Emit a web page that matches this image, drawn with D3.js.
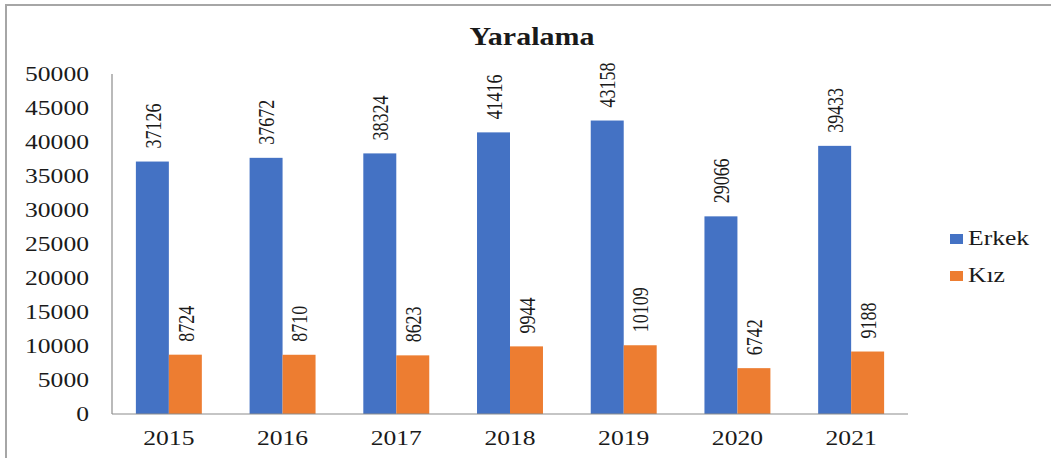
<!DOCTYPE html>
<html>
<head>
<meta charset="utf-8">
<script src="https://cdn.jsdelivr.net/npm/d3@7"></script>
<style>
  html, body { margin: 0; padding: 0; background: #fff; }
  svg { display: block; }
  text { font-family: "Liberation Serif", "Times New Roman", serif; fill: #1a1a1a; }
</style>
</head>
<body>
<svg id="chart" width="1051" height="458"></svg>
<script>
// chart data
const years = ['2015', '2016', '2017', '2018', '2019', '2020', '2021'];
const seriesNames = ['Erkek', 'Kız'];
const erkek = [37126, 37672, 38324, 41416, 43158, 29066, 39433];
const kiz = [8724, 8710, 8623, 9944, 10109, 6742, 9188];
const yTicks = [0, 5000, 10000, 15000, 20000, 25000, 30000, 35000, 40000, 45000, 50000];
const colors = ['#4472C4', '#ED7D31'];

const W = 1051, H = 458;
const plot = {left: 112, right: 908, top: 74, bottom: 414};
// the source picture is stretched sideways, so text gets a horizontal stretch too
const STRETCH = 1.28;

const svg = d3.select('#chart');

// frame (only top and left edges show)
svg.append('path')
  .attr('d', `M6,${H} L6,5 L${W},5`)
  .attr('fill', 'none')
  .attr('stroke', '#a6a6a6')
  .attr('stroke-width', 2);

const x = d3.scaleBand()
  .domain(years)
  .range([plot.left, plot.right])
  .paddingInner(0.42)
  .paddingOuter(0.21);

const xInner = d3.scaleBand()
  .domain(seriesNames)
  .range([0, x.bandwidth()]);

const y = d3.scaleLinear()
  .domain([0, 50000])
  .range([plot.bottom, plot.top]);

const rows = years.map((yr, i) => ({year: yr, values: [erkek[i], kiz[i]]}));

// bars
const groups = svg.append('g').selectAll('g')
  .data(rows)
  .join('g')
  .attr('transform', d => `translate(${x(d.year)},0)`);

groups.selectAll('rect')
  .data(d => d.values.map((v, k) => ({name: seriesNames[k], value: v, k})))
  .join('rect')
  .attr('x', d => xInner(d.name))
  .attr('y', d => y(d.value))
  .attr('width', xInner.bandwidth())
  .attr('height', d => y(0) - y(d.value))
  .attr('fill', d => colors[d.k]);

// value labels, rotated
groups.selectAll('text.val')
  .data(d => d.values.map((v, k) => ({name: seriesNames[k], value: v, k})))
  .join('text')
  .attr('class', 'val')
  .attr('transform', d =>
    `translate(${xInner(d.name) + xInner.bandwidth() / 2},${y(d.value) - 13}) rotate(-90) scale(1,1.3)`)
  .attr('dy', '0.35em')
  .attr('font-size', 18)
  .attr('text-anchor', 'start')
  .text(d => d.value);

// axes lines
const axisColor = '#8c8c8c';
svg.append('line')
  .attr('x1', plot.left).attr('x2', plot.left)
  .attr('y1', plot.top).attr('y2', plot.bottom)
  .attr('stroke', axisColor).attr('stroke-width', 1.2);
svg.append('line')
  .attr('x1', plot.left).attr('x2', plot.right)
  .attr('y1', plot.bottom).attr('y2', plot.bottom)
  .attr('stroke', axisColor).attr('stroke-width', 1.2);

// y tick labels
svg.append('g').selectAll('text')
  .data(yTicks)
  .join('text')
  .attr('transform', d => `translate(89,${y(d)}) scale(${STRETCH},1)`)
  .attr('dy', '0.35em')
  .attr('text-anchor', 'end')
  .attr('font-size', 20)
  .text(d => d);

// x tick labels
svg.append('g').selectAll('text')
  .data(years)
  .join('text')
  .attr('transform', d => `translate(${x(d) + x.bandwidth() / 2},445) scale(${STRETCH},1)`)
  .attr('text-anchor', 'middle')
  .attr('font-size', 20)
  .text(d => d);

// title
svg.append('text')
  .attr('transform', `translate(532,45) scale(1.2,1)`)
  .attr('text-anchor', 'middle')
  .attr('font-size', 25)
  .attr('font-weight', 'bold')
  .text('Yaralama');

// legend
const legend = svg.append('g').selectAll('g')
  .data(seriesNames)
  .join('g')
  .attr('transform', (d, i) => `translate(950,${234 + i * 37})`);
legend.append('rect')
  .attr('width', 13).attr('height', 10)
  .attr('fill', (d, i) => colors[i]);
legend.append('text')
  .attr('transform', `translate(18,11) scale(${STRETCH},1)`)
  .attr('font-size', 20)
  .text(d => d);
</script>
</body>
</html>
